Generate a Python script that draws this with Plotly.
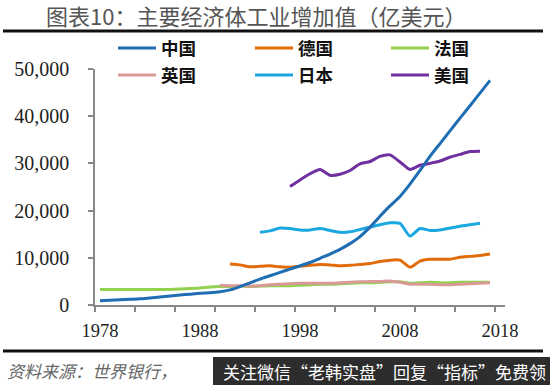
import plotly.graph_objects as go

years_cn = list(range(1978, 2018))
china = [900, 1000, 1100, 1200, 1300, 1500, 1700, 1900, 2100, 2300,
         2500, 2600, 2800, 3200, 3900, 4700, 5500, 6200, 6900, 7600,
         8300, 9000, 9900, 10800, 11800, 13000, 14500, 16500, 18800, 21000,
         23000, 25600, 28500, 31500, 34200, 36900, 39600, 42200, 44900, 47600]

years_de = list(range(1991, 2018))
germany = [8700, 8500, 8100, 8200, 8300, 8100, 8000, 8200, 8400, 8600,
           8500, 8300, 8400, 8600, 8800, 9200, 9500, 9500, 8000, 9300,
           9700, 9700, 9700, 10100, 10300, 10500, 10800]

years_fr = list(range(1978, 2018))
france = [3300, 3300, 3300, 3300, 3300, 3300, 3300, 3300, 3400, 3500,
          3600, 3800, 3900, 3900, 4000, 3900, 4000, 4100, 4100, 4100,
          4200, 4300, 4400, 4400, 4500, 4600, 4700, 4700, 4800, 4900,
          4900, 4600, 4700, 4800, 4700, 4700, 4800, 4800, 4800, 4800]

years_uk = list(range(1990, 2018))
uk = [4200, 4100, 4100, 4000, 4100, 4300, 4400, 4500, 4600, 4600,
      4600, 4600, 4700, 4800, 4900, 5000, 5000, 5100, 4800, 4400,
      4400, 4400, 4300, 4300, 4400, 4500, 4600, 4700]

years_jp = list(range(1994, 2017))
japan = [15400, 15700, 16300, 16200, 15900, 15900, 16200, 15800, 15400, 15500,
         16000, 16500, 17000, 17400, 17300, 14600, 16200, 15800, 15900, 16300,
         16700, 17000, 17300]

years_us = list(range(1997, 2017))
usa = [25100, 26500, 27800, 28700, 27500, 27700, 28500, 29900, 30400, 31500,
       31800, 30300, 28700, 29600, 30000, 30500, 31300, 31900, 32500, 32600]

label_years = [1978, 1988, 1998, 2008, 2018]
tick_bounds = [1977.5 + 4 * i for i in range(11)]
y_ticks = [0, 10000, 20000, 30000, 40000, 50000]

W, H = 550, 385
L, R, T, B = 95, 45, 69, 80
pw, ph = W - L - R, H - T - B


def px(xp):
    return (xp - L) / pw


def py(yp):
    return (H - B - yp) / ph


# (name, x, y, colour, legend id, legend line start px, legend row centre px)
series = [
    ("法国", years_fr, france, "#92D050", "legend3", 393, 48),
    ("英国", years_uk, uk, "#D99A96", "legend4", 120, 75),
    ("德国", years_de, germany, "#E36C0A", "legend2", 257, 48),
    ("日本", years_jp, japan, "#1BA8E0", "legend5", 257, 75),
    ("美国", years_us, usa, "#7030A0", "legend6", 393, 75),
    ("中国", years_cn, china, "#1F6DB3", "legend", 120, 48),
]

fig = go.Figure()
legend_layout = {}
for name, xs, ys, col, lg, lx, ly in series:
    fig.add_trace(go.Scatter(
        x=xs, y=ys, name=name, mode="lines",
        line=dict(color=col, width=3, shape="spline", smoothing=0.6),
        legend=lg))
    legend_layout[lg] = dict(
        orientation="h", xanchor="left", yanchor="middle",
        x=px(lx - 7), y=py(ly), bgcolor="rgba(0,0,0,0)",
        font=dict(family="Noto Sans CJK SC", size=17.5, color="#111", weight="bold"),
        itemwidth=38)

# helper axis for the year labels
fig.add_trace(go.Scatter(x=label_years, y=[None] * len(label_years), xaxis="x2",
                         mode="lines", showlegend=False, hoverinfo="skip"))

fig.update_layout(
    width=W, height=H,
    margin=dict(l=L, r=R, t=T, b=B),
    plot_bgcolor="white", paper_bgcolor="white",
    showlegend=True,
    xaxis=dict(range=[1977.5, 2018.5], tickmode="array", tickvals=tick_bounds,
               showticklabels=False, ticks="outside", ticklen=5, tickwidth=1.5,
               tickcolor="#888", showline=True, linecolor="#888", linewidth=1.5,
               showgrid=False, zeroline=False),
    xaxis2=dict(range=[1977.5, 2018.5], overlaying="x", anchor="y", side="bottom",
                tickmode="array", tickvals=label_years, ticktext=[str(v) for v in label_years],
                ticks="", showline=False, showgrid=False, zeroline=False,
                ticklabelstandoff=12,
                tickfont=dict(family="Liberation Serif", size=18.5, color="#222")),
    yaxis=dict(range=[0, 50000], tickmode="array", tickvals=y_ticks,
               tickformat=",", ticks="outside", ticklen=5, tickwidth=1.5,
               tickcolor="#888", showline=True, linecolor="#888", linewidth=1.5,
               showgrid=False, zeroline=False, ticklabelstandoff=15,
               tickfont=dict(family="Liberation Serif", size=20, color="#222")),
    **legend_layout,
)

# title and rules
fig.add_annotation(text="图表10：主要经济体工业增加值（亿美元）", xref="paper", yref="paper",
                   x=px(256), y=py(15), xanchor="center", yanchor="middle", showarrow=False,
                   font=dict(family="Noto Sans CJK SC", size=22, color="#555"))
fig.add_shape(type="line", xref="paper", yref="paper", x0=px(3), x1=px(543),
              y0=py(31), y1=py(31), line=dict(color="#111", width=3))
fig.add_shape(type="line", xref="paper", yref="paper", x0=px(3), x1=px(543),
              y0=py(351), y1=py(351), line=dict(color="#111", width=3))

# source
fig.add_annotation(text="资料来源：世界银行，", xref="paper", yref="paper",
                   x=px(5), y=py(370), xanchor="left", yanchor="middle", showarrow=False,
                   font=dict(family="Noto Sans CJK SC", size=17, color="#666", style="italic"))
# overlay banner
fig.add_shape(type="rect", xref="paper", yref="paper", x0=px(213), x1=px(552),
              y0=py(357), y1=py(387), fillcolor="#2d2d2d", line=dict(width=0))
fig.add_annotation(text="关注微信“老韩实盘”回复“指标”免费领", xref="paper", yref="paper",
                   x=px(221), y=py(371), xanchor="left", yanchor="middle", showarrow=False,
                   font=dict(family="Noto Sans CJK SC", size=17, color="white"))

fig.write_html("out.html", post_script="document.body.style.margin='0';",
               config={"displayModeBar": False})
